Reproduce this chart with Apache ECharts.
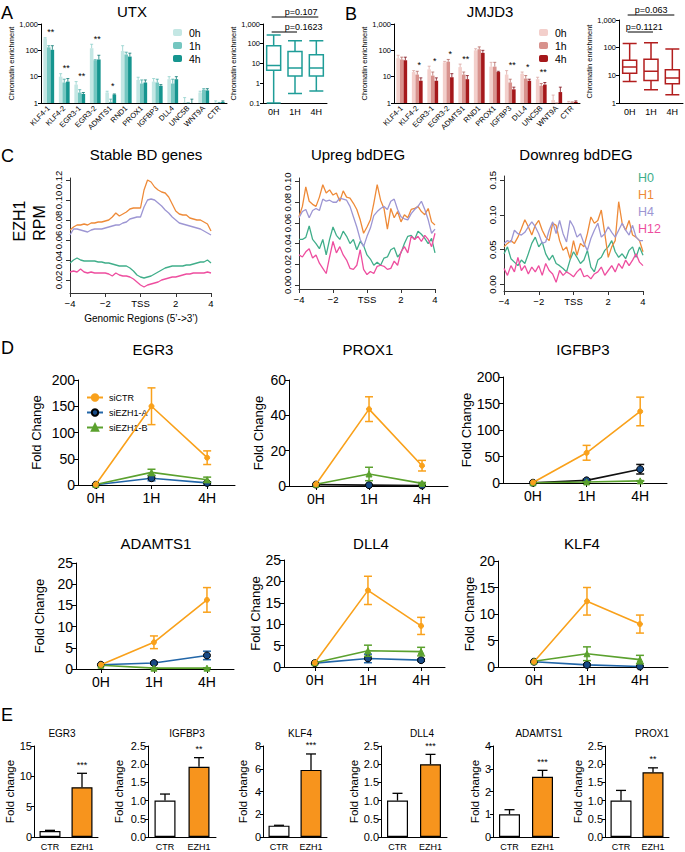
<!DOCTYPE html>
<html><head><meta charset="utf-8">
<script src="https://cdn.jsdelivr.net/npm/echarts@6/dist/echarts.min.js"></script>
<style>html,body{margin:0;padding:0;background:#fff}#c{width:685px;height:852px}</style>
</head><body><div id="c"></div><script>
// ================= DATA =================
const abCats = ['KLF4-1','KLF4-2','EGR3-1','EGR3-2','ADMTS1','RND1','PROX1','IGFBP3','DLL4','UNC5B','WNT9A','CTR'];
const abSeriesNames = ['0h','1h','4h'];
const utx0 = [280,10,5,120,2.5,95,7.5,6.5,8,1.05,2.5,1.05];
const utx1 = [130,6,2.5,42,1.1,70,5.5,6,5.5,1.02,3.2,1.0];
const utx4 = [105,6.5,2.2,45,2.1,58,6,4.5,8,1.0,3.0,1.1];
const utxTop0 = [300,13,6.5,170,2.8,150,9.5,8.5,10,1.6,2.8,1.2];
const utxTop1 = [150,8,3.2,44,1.4,85,7.5,8,8,1.02,3.5,1.05];
const utxTop4 = [150,8.5,2.5,65,2.2,78,7.5,5,10,1.4,3.5,1.2];
const utxStars = ['**','**','**','**','*','','','','','','',''];
const jmj0 = [50,15,19,35,23,100,24,12,13,8,1.3,1.05];
const jmj1 = [45,12,11,37,12,110,24,6,8.5,4.5,1.0,1.05];
const jmj4 = [42,7,7,9.5,8,80,15,3.3,7,5,2.6,1.1];
const jmjTop0 = [65,17,25,38,30,115,35,17,15,9.5,2.0,1.15];
const jmjTop1 = [55,16,15,45,15,135,35,8,11,5.5,1.0,1.1];
const jmjTop4 = [55,9,9,13,11,100,16,4,8,6,4,1.2];
const jmjStars = ['','*','*','*','**','','','**','*','**','',''];

const boxCats = ['0H','1H','4H'];
const utxBox = [[0.1,4.5,8,80,280],[0.3,2.3,6,40,140],[0.4,2.3,6,28,140]];
const jmjBox = [[6,12,20,35,140],[3,6.5,14,38,150],[2,5,8,16,90]];
const utxPvals = ['p=0.107','p=0.1623'];
const jmjPvals = ['p=0.063','p=0.1121'];

const cNames = ['H0','H1','H4','H12'];
const cX = [-4,-3.8,-3.6,-3.4,-3.2,-3,-2.8,-2.6,-2.4,-2.2,-2,-1.8,-1.6,-1.4,-1.2,-1,-0.8,-0.6,-0.4,-0.2,0,0.2,0.4,0.6,0.8,1,1.2,1.4,1.6,1.8,2,2.2,2.4,2.6,2.8,3,3.2,3.4,3.6,3.8,4];
const cTickVals = [-4,-2,0,2,4];
const cTickLabels = ['\u22124','\u22122','TSS','2','4'];
// Stable BD genes
const stH0 = [.037,.040,.042,.040,.039,.039,.039,.039,.038,.038,.037,.037,.036,.035,.034,.034,.034,.032,.029,.025,.023,.022,.023,.024,.026,.028,.030,.032,.033,.034,.034,.034,.034,.035,.035,.036,.037,.038,.038,.040,.037];
const stH1 = [.070,.073,.075,.075,.076,.075,.077,.077,.078,.078,.079,.080,.083,.087,.084,.086,.088,.091,.092,.092,.092,.110,.120,.118,.113,.110,.108,.107,.103,.096,.089,.086,.085,.085,.082,.081,.080,.080,.078,.076,.069];
const stH4 = [.065,.071,.071,.070,.069,.068,.070,.071,.071,.071,.072,.073,.074,.075,.075,.077,.078,.081,.082,.083,.083,.093,.100,.101,.100,.097,.094,.090,.087,.083,.080,.077,.076,.075,.074,.073,.072,.071,.069,.067,.065];
const stH12 = [.028,.029,.028,.031,.028,.027,.028,.027,.027,.027,.027,.026,.024,.027,.025,.024,.024,.023,.021,.018,.015,.013,.015,.016,.017,.018,.020,.021,.022,.023,.023,.024,.025,.026,.026,.027,.027,.027,.027,.028,.027];
// Upreg bdDEG
const upH0 = [.044,.044,.046,.057,.044,.040,.035,.044,.029,.044,.056,.048,.044,.052,.047,.040,.044,.034,.042,.038,.029,.025,.019,.022,.019,.026,.027,.034,.036,.027,.031,.040,.047,.048,.044,.052,.049,.045,.040,.045,.031];
const upH1 = [.066,.076,.095,.081,.078,.076,.085,.097,.089,.092,.087,.089,.081,.091,.085,.084,.079,.073,.063,.050,.056,.063,.079,.097,.082,.074,.054,.074,.065,.071,.061,.068,.065,.073,.074,.076,.071,.068,.074,.061,.058];
const upH4 = [.065,.071,.073,.065,.072,.074,.072,.083,.081,.082,.080,.080,.084,.083,.082,.076,.066,.056,.044,.037,.047,.055,.067,.071,.074,.076,.073,.081,.083,.073,.066,.064,.063,.069,.073,.076,.081,.073,.063,.050,.054];
const upH12 = [.029,.027,.032,.035,.026,.029,.021,.016,.011,.027,.042,.031,.037,.029,.024,.016,.015,.019,.034,.015,.010,.013,.011,.018,.019,.018,.015,.016,.023,.019,.032,.037,.031,.047,.044,.047,.042,.048,.044,.037,.050];
// Downreg bdDEG
const dnH0 = [.044,.054,.037,.032,.027,.035,.030,.044,.059,.068,.054,.061,.044,.035,.042,.030,.027,.023,.018,.035,.047,.039,.030,.035,.049,.025,.018,.035,.039,.049,.054,.063,.047,.039,.044,.037,.049,.054,.039,.054,.042];
const dnH1 = [.054,.059,.063,.059,.068,.080,.093,.083,.071,.085,.092,.078,.068,.063,.088,.085,.063,.049,.054,.037,.063,.042,.059,.054,.073,.097,.088,.092,.107,.073,.039,.054,.063,.119,.088,.078,.092,.071,.068,.063,.047];
const dnH4 = [.059,.063,.061,.078,.073,.071,.075,.083,.090,.083,.073,.059,.061,.078,.090,.073,.092,.073,.061,.092,.083,.068,.073,.059,.049,.066,.078,.088,.068,.073,.083,.075,.068,.078,.088,.078,.071,.085,.068,.063,.063];
const dnH12 = [.023,.013,.027,.018,.039,.020,.027,.015,.025,.018,.027,.013,.030,.020,.015,.003,.020,.013,.018,.015,.011,.018,.023,.011,.013,.008,.015,.018,.025,.013,.020,.027,.018,.030,.023,.035,.027,.035,.044,.032,.027];

const dGenes = ['EGR3','PROX1','IGFBP3','ADAMTS1','DLL4','KLF4'];
const dTicks = ['0H','1H','4H'];
const dNames = ['siCTR','siEZH1-A','siEZH1-B'];
const ctrMean = [[1,150,52],[1,43.5,11.5],[1,57,135],[1,6.3,16.3],[1,17.9,9.6],[1,12.4,8.1]];
const ctrSd   = [[0,35,13],[0,7,3],[0,14,27],[0,1.5,2.9],[0,3.3,2],[0,2.6,1.7]];
const ezaMean = [[0.5,13,4],[0.8,0.5,0.3],[0.5,5,26],[1,1.4,3.2],[0.9,2.0,1.6],[1,0.4,0.1]];
const ezaSd   = [[0,5,2],[0,0.3,0.2],[0,2,9],[0,0.3,1.0],[0,1.0,0.3],[0,0.2,0.1]];
const ezbMean = [[1,24,10],[1,6.8,1.5],[0.5,2,4],[0.9,0.2,0.2],[1,3.8,3.6],[1.1,2.5,1.4]];
const ezbSd   = [[0,6,5],[0,3.8,0.5],[0,0.5,0.5],[0,0.1,0.1],[0,1.3,1.0],[0,1.3,0.8]];
const dYMax = [200,60,200,25,25,20];
const dYStep = [50,20,50,5,5,5];

const eGenes = ['EGR3','IGFBP3','KLF4','DLL4','ADAMTS1','PROX1'];
const eCats = ['CTR','EZH1'];
const eCtr = [1.0,1.0,1.0,1.0,1.0,1.0];
const eCtrSd = [0.1,0.18,0.03,0.2,0.2,0.28];
const eEzh = [8.2,1.93,5.9,2.0,2.65,1.78];
const eEzhSd = [2.3,0.25,1.4,0.27,0.28,0.12];
const eStars = ['***','**','***','***','***','**'];
const eYMax = [15,2.5,8,2.5,4,2.5];
const eYStep = [5,0.5,2,0.5,1,0.5];

// ================= STYLE / LAYOUT =================
const FONT = '"Liberation Sans", Arial, Helvetica, sans-serif';
function merge(a, b) {
  const o = Object.assign({}, a);
  for (const k in b) {
    if (b[k] && typeof b[k] === 'object' && !Array.isArray(b[k]) && a[k] && typeof a[k] === 'object' && !Array.isArray(a[k])) o[k] = merge(a[k], b[k]);
    else o[k] = b[k];
  }
  return o;
}
function baseAxis(fs, col) {
  col = col || '#000';
  return {
    axisLine: {show: true, onZero: false, lineStyle: {color: col, width: 1}},
    axisTick: {show: true, inside: false, length: 3, lineStyle: {color: col, width: 1}},
    axisLabel: {show: true, fontSize: fs, color: '#000', fontFamily: FONT, margin: 3},
    splitLine: {show: false},
    nameTextStyle: {fontFamily: FONT, color: '#000'}
  };
}
const grids = [
  {left: 41, top: 24, width: 186, height: 79},   // 0 A bar
  {left: 263, top: 24, width: 64, height: 79},   // 1 A box
  {left: 394, top: 24, width: 186, height: 79},  // 2 B bar
  {left: 619, top: 20, width: 64, height: 83},   // 3 B box
  {left: 70, top: 178, width: 141, height: 115}, // 4 C1
  {left: 299, top: 178, width: 136, height: 111},// 5 C2
  {left: 504, top: 176, width: 139, height: 115},// 6 C3
  {left: 78, top: 380, width: 157, height: 105}, // 7 D EGR3
  {left: 289, top: 380, width: 159, height: 106},// 8 D PROX1
  {left: 503, top: 377, width: 164, height: 106},// 9 D IGFBP3
  {left: 76, top: 563, width: 158, height: 106}, // 10 D ADAMTS1
  {left: 284, top: 560, width: 161, height: 107},// 11 D DLL4
  {left: 498, top: 561, width: 170, height: 106},// 12 D KLF4
  {left: 34, top: 746, width: 64, height: 91},   // 13 E
  {left: 148, top: 746, width: 68, height: 91},
  {left: 263, top: 746, width: 64, height: 91},
  {left: 381, top: 746, width: 66, height: 91},
  {left: 493, top: 746, width: 66, height: 91},
  {left: 605, top: 746, width: 64, height: 91}
];
const xAxes = [], yAxes = [], series = [];

function errBars(gi, pts, o) {
  return {
    type: 'custom', xAxisIndex: gi, yAxisIndex: gi, z: o.z || 10, silent: true, clip: false,
    encode: {x: 0, y: [1, 2]}, data: pts,
    renderItem(params, api) {
      const x = api.value(0);
      const a = api.coord([x, api.value(1)]);
      const b = api.coord([x, api.value(2)]);
      const cx = a[0] + (o.dx || 0);
      const st = {stroke: o.color, lineWidth: o.lw || 1, fill: null};
      const ch = [
        {type: 'line', shape: {x1: cx, y1: a[1], x2: cx, y2: b[1]}, style: st},
        {type: 'line', shape: {x1: cx - o.cap / 2, y1: b[1], x2: cx + o.cap / 2, y2: b[1]}, style: st}
      ];
      if (o.both) ch.push({type: 'line', shape: {x1: cx - o.cap / 2, y1: a[1], x2: cx + o.cap / 2, y2: a[1]}, style: st});
      return {type: 'group', children: ch};
    }
  };
}
function starSeries(gi, pts, texts, o) {
  return {
    type: 'custom', xAxisIndex: gi, yAxisIndex: gi, z: 12, silent: true, clip: false,
    encode: {x: 0, y: 1}, data: pts,
    renderItem(params, api) {
      const p = api.coord([api.value(0), api.value(1)]);
      return {type: 'text', x: p[0] + (o.dx || 0), y: p[1] - (o.dy || 0),
        style: {text: texts[params.dataIndex], fill: '#000', font: o.fs + 'px ' + FONT,
          align: 'center', verticalAlign: 'bottom', textAlign: 'center', textVerticalAlign: 'bottom'}};
    }
  };
}

// ---------- A & B bar charts ----------
function abBar(gi, prefix, vals, tops, stars, colors, ecolors, nameGap) {
  xAxes[gi] = merge(baseAxis(7.5), {type: 'category', gridIndex: gi, data: abCats,
    axisTick: {show: false}, axisLabel: {rotate: 45, interval: 0, margin: 4}});
  yAxes[gi] = merge(baseAxis(7.5), {type: 'log', logBase: 10, min: 1, max: 1000, gridIndex: gi,
    name: 'Chromatin enrichment', nameLocation: 'middle', nameGap: nameGap, nameTextStyle: {fontSize: 7.5}});
  const bw = 3.6;
  vals.forEach((v, s) => {
    series.push({type: 'bar', name: prefix + ' ' + abSeriesNames[s], xAxisIndex: gi, yAxisIndex: gi,
      data: v, barWidth: bw, barGap: '0%', itemStyle: {color: colors[s]}, silent: true});
    series.push(errBars(gi, v.map((y, i) => [i, y, tops[s][i]]), {dx: (s - 1) * bw, cap: 3, color: ecolors[s], lw: 0.8}));
  });
  const pts = [], txt = [];
  stars.forEach((t, i) => { if (t) { pts.push([i, Math.max(tops[0][i], tops[1][i], tops[2][i])]); txt.push(t); } });
  series.push(starSeries(gi, pts, txt, {dx: 2, dy: 1, fs: 9}));
}
abBar(0, 'UTX', [utx0, utx1, utx4], [utxTop0, utxTop1, utxTop4], utxStars,
  ['#c4e7e4', '#74c6c0', '#16958f'], ['#8fd0cb', '#45aaa4', '#0d7873'], 22);
abBar(2, 'JMJD3', [jmj0, jmj1, jmj4], [jmjTop0, jmjTop1, jmjTop4], jmjStars,
  ['#f3cfcb', '#d8928d', '#a5181b'], ['#dba6a1', '#b56a65', '#80101a'], 23);

// ---------- A & B box plots ----------
function abBox(gi, data, color, minV, nameGap) {
  xAxes[gi] = merge(baseAxis(9), {type: 'category', gridIndex: gi, data: boxCats, axisTick: {show: false}, axisLabel: {margin: 4}});
  yAxes[gi] = merge(baseAxis(7.5), {type: 'log', logBase: 10, min: minV, max: 1000, gridIndex: gi,
    name: 'Chromatin enrichment', nameLocation: 'middle', nameGap: nameGap, nameTextStyle: {fontSize: 7.5}});
  series.push({type: 'boxplot', xAxisIndex: gi, yAxisIndex: gi, data: data, boxWidth: [14, 14], silent: true,
    itemStyle: {color: '#fff', borderColor: color, borderWidth: 1.5}});
}
abBox(1, utxBox, '#1f9d98', 0.1, 19);
abBox(3, jmjBox, '#b21e1e', 1, 18);

// ---------- C profiles ----------
const cColors = ['#40ae8a', '#ee8a38', '#9d96d3', '#ee4e9f'];
function cPlot(gi, arrs, yMin, yMax, yTicks) {
  xAxes[gi] = merge(baseAxis(9.5, '#333'), {type: 'value', gridIndex: gi, min: -4, max: 4,
    axisTick: {length: 4, customValues: cTickVals},
    axisLabel: {margin: 5, customValues: cTickVals, formatter: v => cTickLabels[cTickVals.indexOf(v)]}});
  yAxes[gi] = merge(baseAxis(9.5, '#333'), {type: 'value', gridIndex: gi, min: yMin, max: yMax,
    axisTick: {length: 4, customValues: yTicks},
    axisLabel: {margin: 7, rotate: 90, customValues: yTicks, formatter: v => v.toFixed(2)}});
  arrs.forEach((a, k) => {
    series.push({type: 'line', name: cNames[k], xAxisIndex: gi, yAxisIndex: gi, showSymbol: false, silent: true,
      data: cX.map((x, i) => [x, a[i]]), lineStyle: {width: 1.3, color: cColors[k]}, itemStyle: {color: cColors[k]}});
  });
}
cPlot(4, [stH0, stH1, stH4, stH12], 0.007, 0.122, [0.02, 0.04, 0.06, 0.08, 0.10, 0.12]);
cPlot(5, [upH0, upH1, upH4, upH12], -0.004, 0.1035, [0, 0.02, 0.04, 0.06, 0.08, 0.10]);
cPlot(6, [dnH0, dnH1, dnH4, dnH12], -0.0095, 0.156, [0, 0.05, 0.10, 0.15]);

// ---------- D time courses ----------
const dXRange = [[-0.32, 2.5], [-0.51, 2.49], [-0.56, 2.5], [-0.47, 2.51], [-0.58, 2.45], [-0.68, 2.53]];
const dNameGap = [35, 24, 23, 30, 18, 17];
const dCtrColor = '#f9a11b', dBColor = '#5ba12e';
const dAColors = ['#2266a8', '#111', '#111', '#2266a8', '#2266a8', '#2266a8'];
dGenes.forEach((g, k) => {
  const gi = 7 + k;
  const fs = 14;
  xAxes[gi] = merge(baseAxis(fs), {type: 'value', gridIndex: gi, min: dXRange[k][0], max: dXRange[k][1],
    axisTick: {length: 4, customValues: [0, 1, 2]},
    axisLabel: {margin: 6, customValues: [0, 1, 2], formatter: v => dTicks[v]}});
  yAxes[gi] = merge(baseAxis(fs), {type: 'value', gridIndex: gi, min: 0, max: dYMax[k], interval: dYStep[k],
    axisTick: {length: 4}, axisLabel: {margin: 3},
    name: 'Fold Change', nameLocation: 'middle', nameGap: dNameGap[k], nameTextStyle: {fontSize: 13}});
  const groups = [
    {name: dNames[1], m: ezaMean[k], s: ezaSd[k], color: dAColors[k], sym: 'circle', size: 7, fill: '#174a86', border: '#000', z: 3},
    {name: dNames[2], m: ezbMean[k], s: ezbSd[k], color: dBColor, sym: 'triangle', size: 6, fill: dBColor, border: dBColor, z: 4},
    {name: dNames[0], m: ctrMean[k], s: ctrSd[k], color: dCtrColor, sym: 'circle', size: 5, fill: dCtrColor, border: dCtrColor, z: 5}
  ];
  groups.forEach(o => {
    series.push({type: 'line', name: o.name, xAxisIndex: gi, yAxisIndex: gi, z: o.z, silent: true,
      data: o.m.map((v, i) => [i, v]), symbol: o.sym, symbolSize: o.size, showSymbol: true,
      lineStyle: {width: 1.6, color: o.color},
      itemStyle: {color: o.fill, borderColor: o.border, borderWidth: 1}});
    const pts = [];
    o.m.forEach((v, i) => { if (o.s[i] > 0) pts.push([i, Math.max(0, v - o.s[i]), v + o.s[i]]); });
    series.push(errBars(gi, pts, {cap: 8, color: o.color, lw: 1.5, both: true, z: o.z}));
  });
});

// ---------- E bar charts ----------
const eNameGap = [18, 23, 14, 20, 10, 14];
eGenes.forEach((g, k) => {
  const gi = 13 + k;
  xAxes[gi] = merge(baseAxis(9), {type: 'category', gridIndex: gi, data: eCats, axisTick: {show: false}, axisLabel: {margin: 5}});
  yAxes[gi] = merge(baseAxis(11), {type: 'value', gridIndex: gi, min: 0, max: eYMax[k], interval: eYStep[k],
    axisTick: {length: 3}, axisLabel: {margin: 2, formatter: v => eYStep[k] < 1 ? v.toFixed(1) : String(v)},
    name: 'Fold change', nameLocation: 'middle', nameGap: eNameGap[k], nameTextStyle: {fontSize: 11.5}});
  series.push({type: 'bar', xAxisIndex: gi, yAxisIndex: gi, barWidth: 21, silent: true,
    data: [{value: eCtr[k], itemStyle: {color: '#fff'}}, {value: eEzh[k], itemStyle: {color: '#f7941d'}}],
    itemStyle: {borderColor: '#000', borderWidth: 1.2}});
  series.push(errBars(gi, [[0, eCtr[k], eCtr[k] + eCtrSd[k]], [1, eEzh[k], eEzh[k] + eEzhSd[k]]], {cap: 10, color: '#000', lw: 1.3}));
  series.push(starSeries(gi, [[1, eEzh[k] + eEzhSd[k]]], [eStars[k]], {dy: 4, fs: 9}));
});

// ---------- legends ----------
const legends = [
  {data: abSeriesNames.map(n => 'UTX ' + n), left: 168, top: 22, orient: 'vertical', itemWidth: 9, itemHeight: 7, itemGap: 2,
   formatter: n => n.split(' ')[1], textStyle: {fontSize: 10.5, color: '#000', fontFamily: FONT, padding: [0, 0, 0, 2]}, selectedMode: false},
  {data: abSeriesNames.map(n => 'JMJD3 ' + n), left: 534, top: 22, orient: 'vertical', itemWidth: 9, itemHeight: 7, itemGap: 2,
   formatter: n => n.split(' ')[1], textStyle: {fontSize: 10.5, color: '#000', fontFamily: FONT, padding: [0, 0, 0, 2]}, selectedMode: false},
  {data: cNames.map((n, k) => ({name: n, icon: 'none', textStyle: {color: cColors[k]}})), left: 626, top: 166, orient: 'vertical',
   itemWidth: 2, itemHeight: 10, itemGap: 4, textStyle: {fontSize: 12.5, fontFamily: FONT}, selectedMode: false},
  {data: dNames, left: 81, top: 388, orient: 'vertical', itemWidth: 16, itemHeight: 8, itemGap: 6,
   textStyle: {fontSize: 9, color: '#000', fontFamily: FONT, padding: [0, 0, 0, 1]}, selectedMode: false}
];

// ---------- texts ----------
function T(text, x, y, fs, o) {
  o = o || {};
  return {type: 'text', x: x, y: y, rotation: o.rot || 0, silent: true, z: 100,
    style: {text: text, fill: o.color || '#000', font: (o.weight ? o.weight + ' ' : '') + fs + 'px ' + FONT,
      align: o.align || 'center', verticalAlign: 'middle', textAlign: o.align || 'center', textVerticalAlign: 'middle'}};
}
const graphics = [
  T('A', 1, 13, 18, {align: 'left'}), T('B', 345, 14, 18, {align: 'left'}),
  T('C', 1, 156, 18, {align: 'left'}), T('D', 1, 348, 18, {align: 'left'}), T('E', 1, 715, 18, {align: 'left'}),
  T('UTX', 132, 11, 15), T('JMJD3', 490, 11, 15),
  T('Stable BD genes', 146, 154, 15), T('Upreg bdDEG', 358, 154, 15), T('Downreg bdDEG', 576, 154, 15),
  T('EZH1', 19, 221, 16, {rot: Math.PI / 2}), T('RPM', 39, 223, 16, {rot: Math.PI / 2}),
  T('Genomic Regions (5\u2019->3\u2019)', 141, 318, 10),
  T(dGenes[0], 153, 349, 15), T(dGenes[1], 368, 349, 15), T(dGenes[2], 583, 349, 15),
  T(dGenes[3], 156, 543, 15), T(dGenes[4], 371, 543, 15), T(dGenes[5], 582, 543, 15),
  T(eGenes[0], 62, 733, 10), T(eGenes[1], 187, 733, 10), T(eGenes[2], 300, 733, 10),
  T(eGenes[3], 422, 733, 10), T(eGenes[4], 539, 733, 10), T(eGenes[5], 652, 733, 10)
];

const chart = echarts.init(document.getElementById('c'), null, {renderer: 'svg'});
chart.setOption({
  animation: false, backgroundColor: '#fff',
  textStyle: {fontFamily: FONT},
  grid: grids, xAxis: xAxes, yAxis: yAxes, series: series, legend: legends
});
// p-value brackets positioned from the box-plot category axes
function px(gi, c) { return chart.convertToPixel({xAxisIndex: gi}, c); }
function bracket(gi, c1, c2, y, label, tdx) {
  const x1 = px(gi, c1), x2 = px(gi, c2);
  return [
    {type: 'line', silent: true, shape: {x1: x1 - 2, y1: y, x2: x2 + 2, y2: y}, style: {stroke: '#000', lineWidth: 1}},
    T(label, x1 + tdx, y - 5.5, 9, {align: 'left'})
  ];
}
graphics.push(...bracket(1, '0H', '4H', 17, utxPvals[0], 11));
graphics.push(...bracket(1, '0H', '1H', 32, utxPvals[1], 11));
graphics.push(...bracket(3, '0H', '4H', 15, jmjPvals[0], 5));
graphics.push(...bracket(3, '0H', '1H', 32, jmjPvals[1], -4));
chart.setOption({graphic: graphics});
</script></body></html>
